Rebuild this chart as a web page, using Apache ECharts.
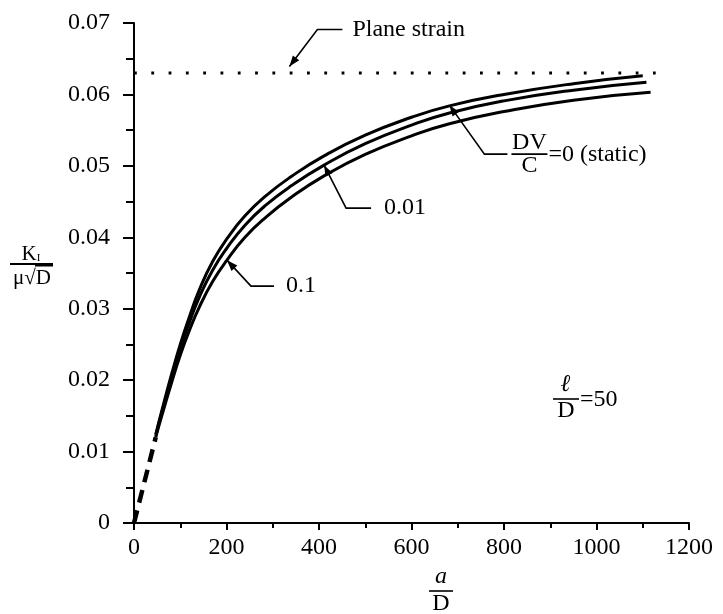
<!DOCTYPE html>
<html>
<head>
<meta charset="utf-8">
<script src="https://cdn.jsdelivr.net/npm/echarts@6/dist/echarts.min.js"></script>
<style>
  html, body { margin: 0; padding: 0; background: #fff; }
  #main { width: 723px; height: 614px; }
</style>
</head>
<body>
<div id="main"></div>
<script>
// a/D on x, K_I/(mu sqrt D) on y
var staticX = [47, 60, 82, 100, 120, 141, 170, 201, 240, 285, 340, 411, 500, 600, 682, 800, 950, 1100];
var staticY = [0.0124, 0.0157, 0.0210, 0.0250, 0.0289, 0.0326, 0.0366, 0.0398, 0.0430, 0.0458, 0.0485, 0.0514, 0.0543, 0.0568, 0.0584, 0.0600, 0.0615, 0.0626];

var dv001X = [47, 60, 82, 100, 120, 141, 170, 201, 240, 285, 340, 411, 500, 600, 682, 800, 950, 1108];
var dv001Y = [0.0122, 0.0154, 0.0205, 0.0244, 0.0281, 0.0316, 0.0354, 0.0385, 0.0417, 0.0445, 0.0472, 0.0501, 0.0531, 0.0557, 0.0574, 0.0591, 0.0606, 0.0617];

var dv01X = [47, 60, 82, 100, 120, 141, 170, 201, 240, 285, 340, 411, 500, 600, 682, 800, 950, 1117];
var dv01Y = [0.0120, 0.0150, 0.0198, 0.0235, 0.0270, 0.0302, 0.0338, 0.0368, 0.0400, 0.0428, 0.0456, 0.0486, 0.0516, 0.0542, 0.0559, 0.0576, 0.0592, 0.0603];

// dashed start near the origin
var startX = [0, 47];
var startY = [0, 0.012];

// plane strain limit
var planeX = [0, 1128];
var planeY = [0.063, 0.063];

var xTicks = [0, 200, 400, 600, 800, 1000, 1200];
var yTicks = [0, 0.01, 0.02, 0.03, 0.04, 0.05, 0.06, 0.07];

function pairs(xs, ys) {
  var out = [];
  for (var i = 0; i < xs.length; i++) out.push([xs[i], ys[i]]);
  return out;
}

var FONT = "Liberation Serif";
var chart = echarts.init(document.getElementById("main"), null, { renderer: "canvas" });

var axisCommon = {
  axisLine: { show: true, onZero: false, lineStyle: { color: "#000", width: 2 } },
  axisTick: { show: true, inside: false, lineStyle: { color: "#000", width: 2 } },
  minorTick: { show: true, splitNumber: 2, lineStyle: { color: "#000", width: 2 } },
  splitLine: { show: false },
  minorSplitLine: { show: false }
};

var curveStyle = { color: "#000", width: 3 };

var option = {
  backgroundColor: "#fff",
  animation: false,
  grid: { left: 134, right: 34, top: 23, bottom: 91, containLabel: false, outerBoundsMode: "none" },
  xAxis: echarts.util.merge({
    type: "value",
    min: xTicks[0],
    max: xTicks[xTicks.length - 1],
    interval: 200,
    axisTick: { length: 7 },
    minorTick: { length: 5 },
    axisLabel: { color: "#000", fontFamily: FONT, fontSize: 24, margin: 13,
      formatter: function (v) { return String(v); } }
  }, axisCommon),
  yAxis: echarts.util.merge({
    type: "value",
    min: yTicks[0],
    max: yTicks[yTicks.length - 1],
    interval: 0.01,
    axisTick: { length: 11 },
    minorTick: { length: 8 },
    axisLabel: {
      color: "#000", fontFamily: FONT, fontSize: 24, margin: 24,
      formatter: function (v) { return v === 0 ? "0" : v.toFixed(2); }
    }
  }, axisCommon),
  series: [
    { type: "line", data: pairs(staticX, staticY), smooth: 0.5, symbol: "none", lineStyle: curveStyle },
    { type: "line", data: pairs(dv001X, dv001Y), smooth: 0.5, symbol: "none", lineStyle: curveStyle },
    { type: "line", data: pairs(dv01X, dv01Y), smooth: 0.5, symbol: "none", lineStyle: curveStyle },
    { type: "line", data: pairs(startX, startY), symbol: "none",
      lineStyle: { color: "#000", width: 4.5, type: [13, 8], cap: "butt" } },
    { type: "line", data: pairs(planeX, planeY), symbol: "none",
      lineStyle: { color: "#000", width: 2.8, type: [2.8, 14.5], cap: "butt" } }
  ]
};
chart.setOption(option);

// leader lines with arrow heads, anchored on data points
function arrowHead(tip, from) {
  var dx = tip[0] - from[0], dy = tip[1] - from[1];
  var len = Math.sqrt(dx * dx + dy * dy);
  var ux = dx / len, uy = dy / len;
  var L = 11, W = 4;
  var bx = tip[0] - ux * L, by = tip[1] - uy * L;
  return { type: "polygon", shape: { points: [tip, [bx - uy * W, by + ux * W], [bx + uy * W, by - ux * W]] },
    style: { fill: "#000" } };
}

function leader(dataTip, elbow, end) {
  var t = chart.convertToPixel({ gridIndex: 0 }, dataTip);
  var e = [t[0] + elbow[0], t[1] + elbow[1]];
  var f = [t[0] + end[0], t[1] + end[1]];
  return {
    tip: t, end: f,
    els: [
      { type: "polyline", shape: { points: [f, e, t] }, style: { stroke: "#000", lineWidth: 1.6, fill: null } },
      arrowHead(t, e)
    ]
  };
}

function txt(s, x, y, size, align, extra) {
  var st = { text: s, x: x, y: y, fill: "#000", font: (extra || "") + " " + size + "px '" + FONT + "'",
    align: align || "left", verticalAlign: "middle" };
  return { type: "text", style: st };
}

function hline(x1, x2, y, w) {
  return { type: "line", shape: { x1: x1, y1: y, x2: x2, y2: y }, style: { stroke: "#000", lineWidth: w || 1.6 } };
}

var g = [];
var a1 = leader([336, 0.0639], [28, -37], [53, -37]);
g = g.concat(a1.els);
g.push(txt("Plane strain", a1.end[0] + 10, a1.end[1], 24, "left"));

var a2 = leader([682, 0.0585], [35, 49], [58, 49]);
g = g.concat(a2.els);
var fx = a2.end[0] + 22, fy = a2.end[1];
g.push(txt("DV", fx, fy - 11, 24, "center"));
g.push(hline(fx - 18, fx + 18, fy, 1.6));
g.push(txt("C", fx, fy + 12, 24, "center"));
g.push(txt("=0 (static)", fx + 19, fy + 1, 24, "left"));

var a3 = leader([411, 0.0501], [22, 43], [47, 43]);
g = g.concat(a3.els);
g.push(txt("0.01", a3.end[0] + 13, a3.end[1], 24, "left"));

var a4 = leader([201, 0.0368], [24, 26], [47, 26]);
g = g.concat(a4.els);
g.push(txt("0.1", a4.end[0] + 12, a4.end[1], 24, "left"));

// l/D = 50
g.push(txt("\u2113", 566, 385, 24, "center", "italic bold"));
g.push(hline(553, 579, 399, 1.6));
g.push(txt("D", 566, 411, 24, "center"));
g.push(txt("=50", 580, 400, 24, "left"));

// y axis name: K_I / (mu sqrt D)
g.push({ type: "text", style: { text: "K{s|I}", x: 31, y: 254, fill: "#000", font: "21px '" + FONT + "'",
  align: "center", verticalAlign: "middle", rich: { s: { fontSize: 11, fontFamily: FONT, padding: [8, 0, 0, 0] } } } });
g.push(hline(10, 53, 264, 2));
g.push(txt("\u03bc\u221aD", 32, 278, 21, "center"));
g.push(hline(35, 53, 265, 3));

// x axis name: a / D
g.push(txt("a", 441, 577, 24, "center", "italic"));
g.push(hline(429, 453, 591, 1.6));
g.push(txt("D", 441, 604, 24, "center"));

chart.setOption({ graphic: { elements: g } });
</script>
</body>
</html>
